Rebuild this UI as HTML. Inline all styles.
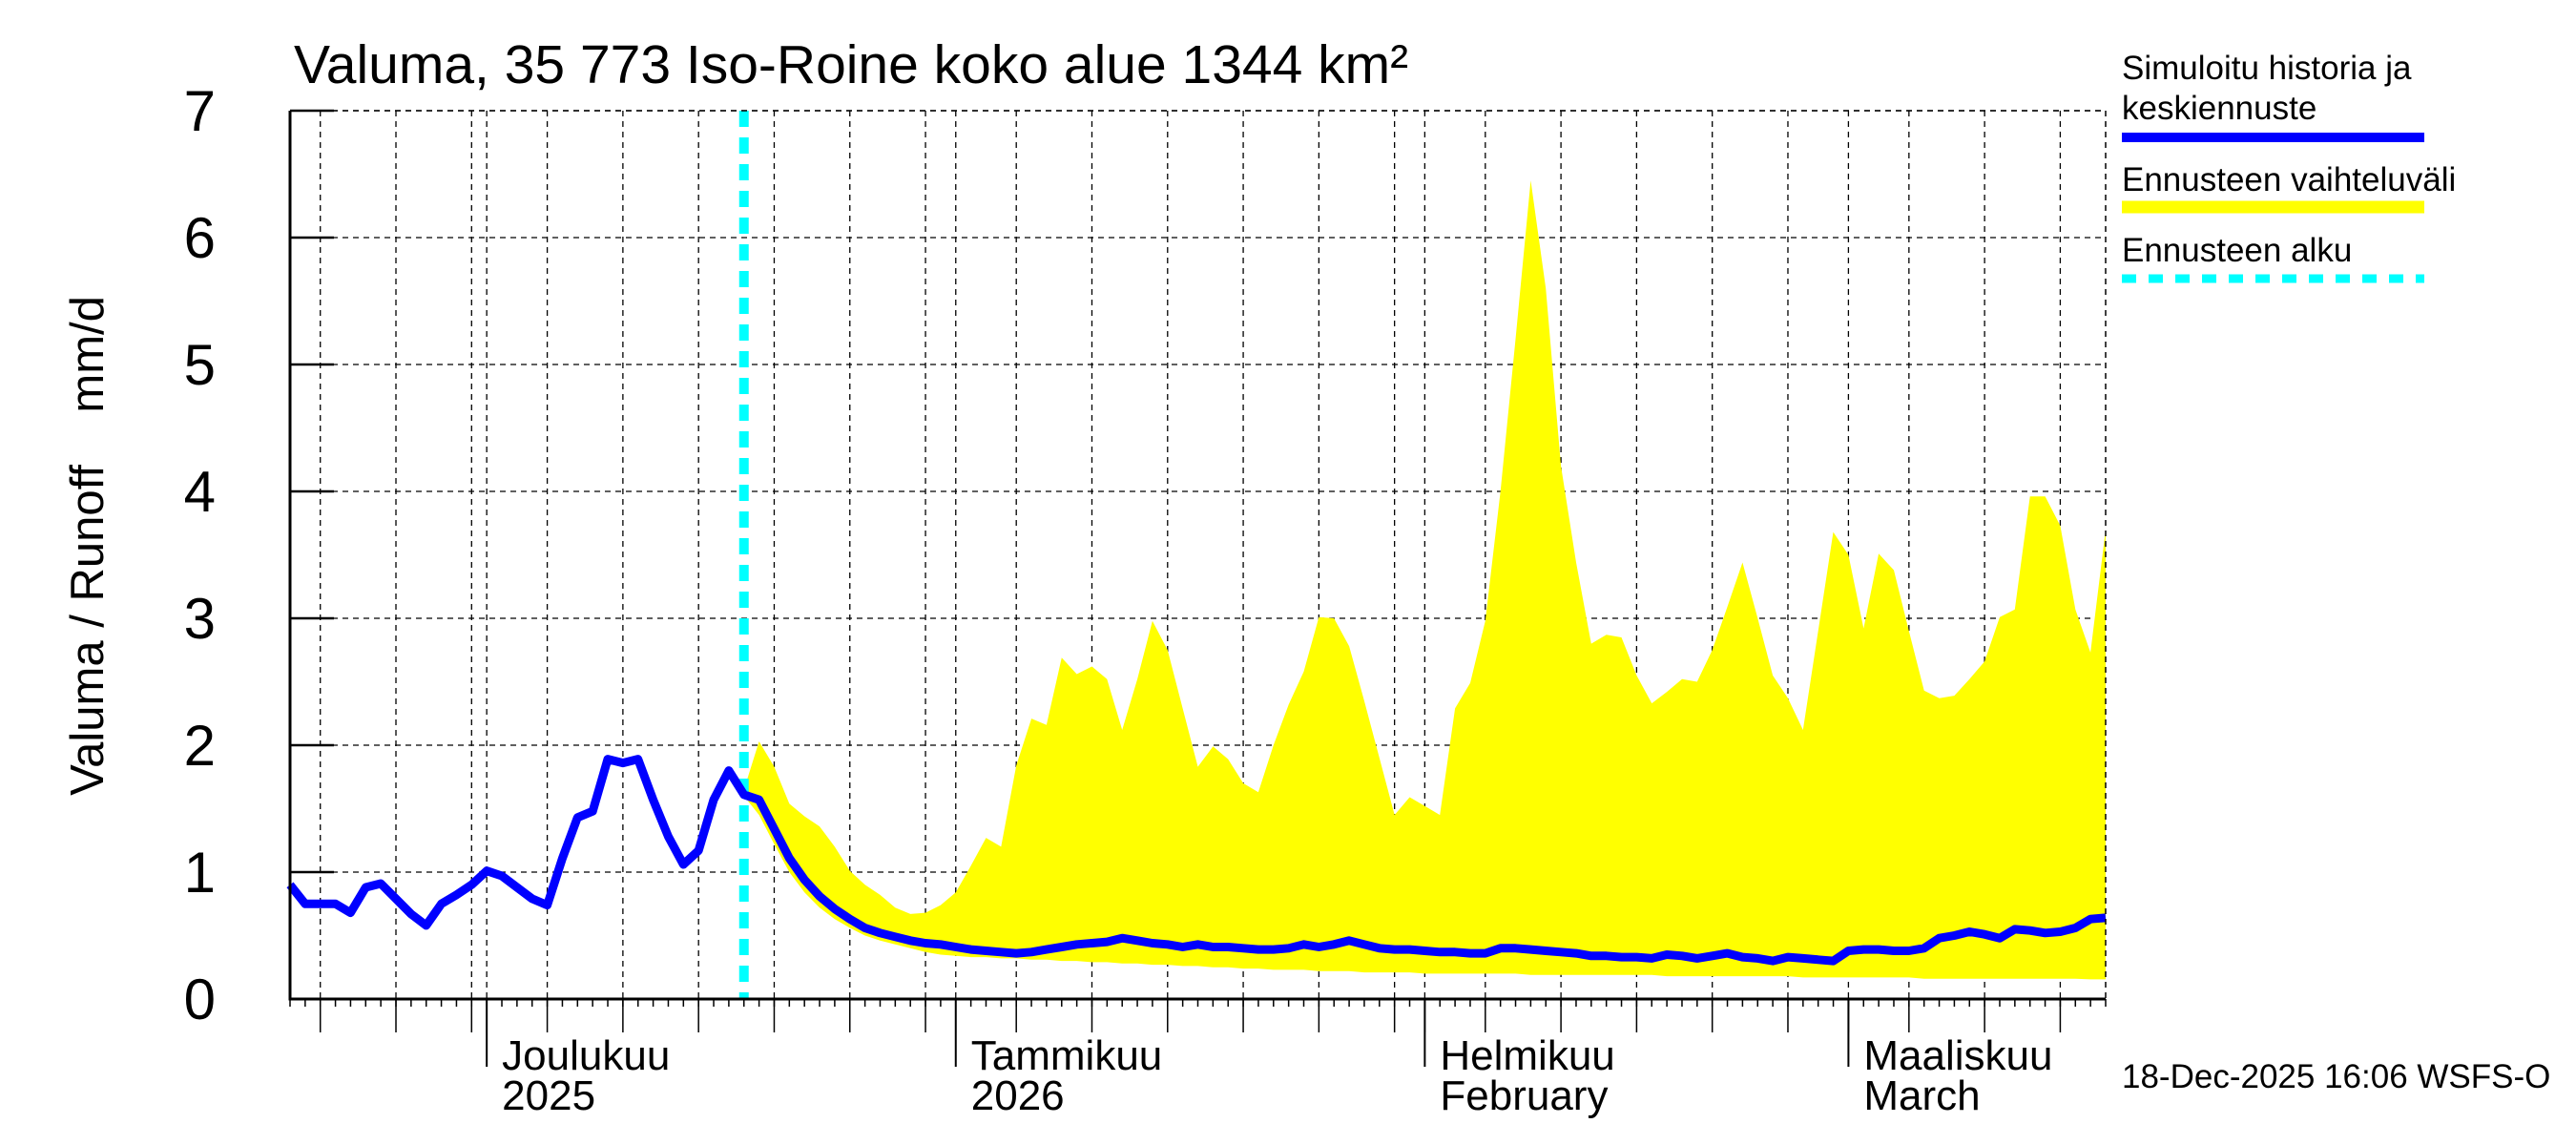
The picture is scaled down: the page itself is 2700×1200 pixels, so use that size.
<!DOCTYPE html>
<html><head><meta charset="utf-8"><style>
html,body{margin:0;padding:0;background:#fff;}
svg{display:block;font-family:"Liberation Sans",sans-serif;}
</style></head><body>
<svg id="chart" width="2700" height="1200" viewBox="0 0 2700 1200" xmlns="http://www.w3.org/2000/svg">
<rect width="2700" height="1200" fill="#fff"/>
<g id="grid"></g>
<g id="band"></g>
<g id="lines"></g>
<g id="axes"></g>
<text x="308" y="87" font-size="57">Valuma, 35 773 Iso-Roine koko alue 1344 km²</text>
<text transform="translate(108,572) rotate(-90)" text-anchor="middle" font-size="49" xml:space="preserve">Valuma / Runoff    mm/d</text>
<g>
<text x="2224" y="83" font-size="35">Simuloitu historia ja</text>
<text x="2224" y="125" font-size="35">keskiennuste</text>
<line x1="2224" y1="144" x2="2541" y2="144" stroke="#0000ff" stroke-width="10"/>
<text x="2224" y="200" font-size="35">Ennusteen vaihteluväli</text>
<line x1="2224" y1="217" x2="2541" y2="217" stroke="#ffff00" stroke-width="13"/>
<text x="2224" y="274" font-size="35">Ennusteen alku</text>
<line x1="2224" y1="292" x2="2541" y2="292" stroke="#00ffff" stroke-width="9" stroke-dasharray="15,13"/>
</g>
<text x="2224" y="1140" font-size="35">18-Dec-2025 16:06 WSFS-O</text>
</svg>
<script>
const blueValues = [0.90,0.75,0.75,0.75,0.68,0.88,0.91,0.79,0.67,0.58,0.75,0.82,0.90,1.01,0.97,0.88,0.79,0.74,1.11,1.43,1.48,1.89,1.86,1.89,1.57,1.28,1.06,1.17,1.57,1.80,1.61,1.57,1.34,1.11,0.94,0.81,0.71,0.63,0.56,0.52,0.49,0.46,0.44,0.43,0.41,0.39,0.38,0.37,0.36,0.37,0.39,0.41,0.43,0.44,0.45,0.48,0.46,0.44,0.43,0.41,0.43,0.41,0.41,0.40,0.39,0.39,0.40,0.43,0.41,0.43,0.46,0.43,0.40,0.39,0.39,0.38,0.37,0.37,0.36,0.36,0.40,0.40,0.39,0.38,0.37,0.36,0.34,0.34,0.33,0.33,0.32,0.35,0.34,0.32,0.34,0.36,0.33,0.32,0.30,0.33,0.32,0.31,0.30,0.38,0.39,0.39,0.38,0.38,0.40,0.48,0.50,0.53,0.51,0.48,0.55,0.54,0.52,0.53,0.56,0.63,0.64];
const bandStartDay = 30;
const bandUpper = [1.65,2.03,1.83,1.54,1.44,1.36,1.20,1.01,0.90,0.82,0.72,0.67,0.68,0.74,0.84,1.05,1.27,1.20,1.84,2.21,2.16,2.69,2.56,2.62,2.52,2.12,2.52,2.98,2.75,2.29,1.83,1.99,1.89,1.70,1.63,2.00,2.32,2.58,3.01,3.00,2.78,2.35,1.90,1.45,1.59,1.52,1.45,2.29,2.49,2.98,4.00,5.20,6.45,5.60,4.20,3.44,2.80,2.87,2.85,2.55,2.33,2.42,2.52,2.50,2.75,3.09,3.44,3.00,2.55,2.37,2.12,2.90,3.68,3.50,2.92,3.51,3.38,2.90,2.43,2.37,2.39,2.52,2.66,3.01,3.07,3.96,3.96,3.73,3.07,2.73,3.70];
const bandLower = [1.60,1.45,1.22,1.00,0.84,0.72,0.63,0.56,0.50,0.46,0.43,0.40,0.37,0.35,0.34,0.33,0.33,0.32,0.32,0.31,0.31,0.30,0.30,0.29,0.29,0.28,0.28,0.27,0.27,0.26,0.26,0.25,0.25,0.24,0.24,0.23,0.23,0.23,0.22,0.22,0.22,0.21,0.21,0.21,0.21,0.20,0.20,0.20,0.20,0.20,0.20,0.20,0.19,0.19,0.19,0.19,0.19,0.19,0.19,0.19,0.19,0.18,0.18,0.18,0.18,0.18,0.18,0.18,0.18,0.18,0.17,0.17,0.17,0.17,0.17,0.17,0.17,0.17,0.16,0.16,0.16,0.16,0.16,0.16,0.16,0.16,0.16,0.16,0.16,0.155,0.155];
const forecastStartDay = 30;
const yTickLabels = ["0","1","2","3","4","5","6","7"];
const monthStartDays = [13,44,75,103];
const monthLabels1 = ["Joulukuu","Tammikuu","Helmikuu","Maaliskuu"];
const monthLabels2 = ["2025","2026","February","March"];
const gridDays = [2,7,12,13,17,22,27,32,37,42,44,48,53,58,63,68,73,75,79,84,89,94,99,103,107,112,117];
const totalDays = 120;

const NS="http://www.w3.org/2000/svg";
const L=304,R=2207,T=116,B=1047;
function X(d){return L+d*(R-L)/totalDays;}
function Y(v){return B-v*(B-T)/7;}
function mk(tag,attrs,parent){const e=document.createElementNS(NS,tag);for(const k in attrs)e.setAttribute(k,attrs[k]);parent.appendChild(e);return e;}
const grid=document.getElementById('grid'),band=document.getElementById('band'),lines=document.getElementById('lines'),axes=document.getElementById('axes');

yTickLabels.forEach((lab,i)=>{
  const y=Y(i);
  if(i>0){const g=mk('line',{x1:L,y1:y,x2:R,y2:y,stroke:'#000','stroke-width':1.3,'stroke-dasharray':'6,5'},grid);
  
  }
  const tk=mk('line',{x1:L,y1:y,x2:L+46,y2:y,stroke:'#000','stroke-width':2.5},axes);
  
  
  const t=mk('text',{x:226,y:y+21,'text-anchor':'end','font-size':60},axes);
  t.textContent=lab;
  
  
});
gridDays.forEach(d=>{
  const x=X(d);
  const g=mk('line',{x1:x,y1:T,x2:x,y2:B,stroke:'#000','stroke-width':1.3,'stroke-dasharray':'6,5'},grid);
  
  
  const tk=mk('line',{x1:x,y1:B,x2:x,y2:1082,stroke:'#000','stroke-width':1.5},axes);
  
  
});
for(let d=0;d<=totalDays;d++){
  const x=X(d);
  const tk=mk('line',{x1:x,y1:B,x2:x,y2:1055,stroke:'#000','stroke-width':1.5},axes);
  
  
}
monthStartDays.forEach((d,i)=>{
  const x=X(d);
  const tk=mk('line',{x1:x,y1:B,x2:x,y2:1118,stroke:'#000','stroke-width':2},axes);
  
  
  const t1=mk('text',{x:x+16,y:1121,'font-size':44},axes);
  t1.textContent=monthLabels1[i];
  
  
  const t2=mk('text',{x:x+16,y:1163,'font-size':44},axes);
  t2.textContent=monthLabels2[i];
  
  
});
const fr=mk('path',{d:`M${L},${T} H${R} V${B}`,fill:'none',stroke:'#000','stroke-width':1.5,'stroke-dasharray':'6,5'},axes);


const ax=mk('path',{d:`M${L},${T} V${B} H${R}`,fill:'none',stroke:'#000','stroke-width':3},axes);



let pts=[];
bandUpper.forEach((v,i)=>pts.push(X(bandStartDay+i).toFixed(1)+','+Y(v).toFixed(1)));
for(let i=bandLower.length-1;i>=0;i--)pts.push(X(bandStartDay+i).toFixed(1)+','+Y(bandLower[i]).toFixed(1));
const poly=mk('polygon',{points:pts.join(' '),fill:'#ffff00'},band);



const fs=mk('line',{x1:X(forecastStartDay),y1:T,x2:X(forecastStartDay),y2:B,stroke:'#00ffff','stroke-width':10,'stroke-dasharray':'17,11'},lines);



const bp=blueValues.map((v,i)=>X(i).toFixed(1)+','+Y(v).toFixed(1)).join(' ');
const bl=mk('polyline',{points:bp,fill:'none',stroke:'#0000ff','stroke-width':9,'stroke-linejoin':'round'},lines);


</script>
</body></html>
